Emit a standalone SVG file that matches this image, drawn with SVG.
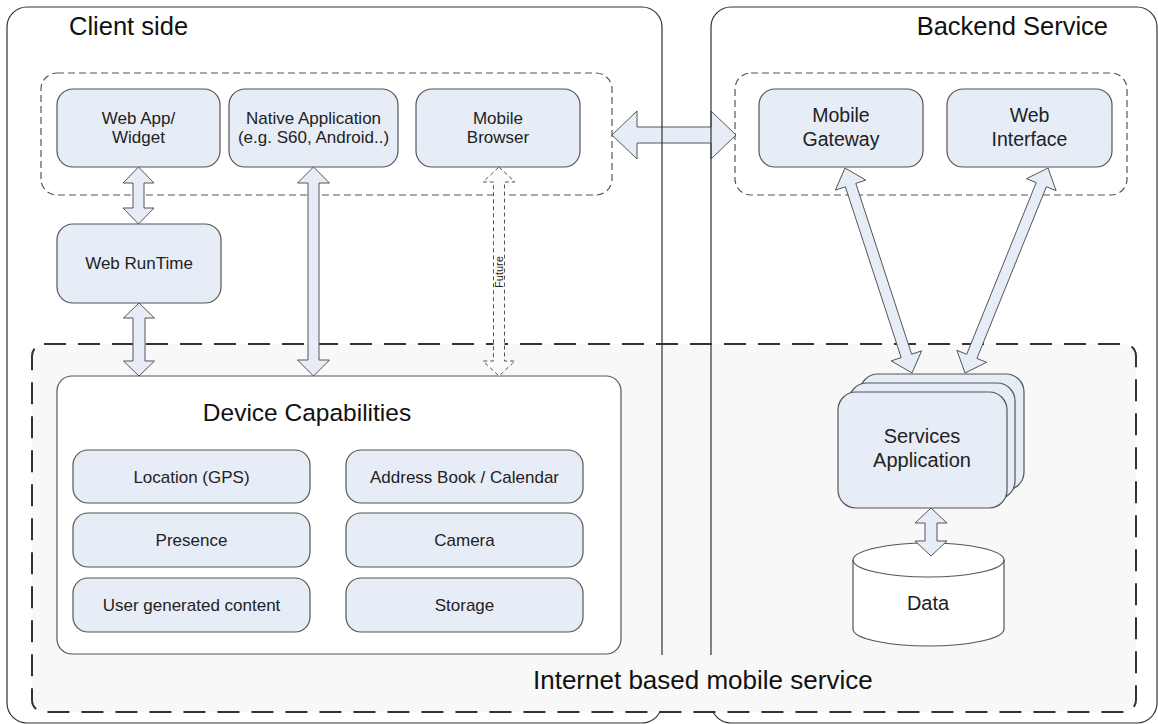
<svg xmlns="http://www.w3.org/2000/svg" width="1158" height="724" viewBox="0 0 1158 724">
<style>
text{font-family:"Liberation Sans",Arial,sans-serif;fill:#222}
.title{font-size:25.5px;fill:#111}
.lbl{font-size:17px;text-anchor:middle}
.lbl2{font-size:19.5px;text-anchor:middle}
.lbl3{font-size:20px;text-anchor:middle}
.box{fill:#e7edf7;stroke:#555;stroke-width:1.2}
.grp{fill:none;stroke:#555;stroke-width:1.2;stroke-dasharray:7 4}
.frame{fill:none;stroke:#333;stroke-width:1.2}
.arr{fill:#e7edf7;stroke:#555;stroke-width:1}
.arrd{fill:#fbfbfb;stroke:#555;stroke-width:1;stroke-dasharray:4 3}
</style>
<rect width="1158" height="724" fill="#fff"/>
<g id="internet-service">
<rect x="32" y="344" width="1104" height="368" rx="12" fill="#f8f8f8" stroke="#333" stroke-width="2" stroke-dasharray="22 12"/>
</g>
<g id="client-apps-group"><rect class="grp" x="41" y="73" width="571" height="122" rx="16"/></g>
<g id="backend-group"><rect class="grp" x="735" y="73" width="392" height="122" rx="16"/></g>
<g id="web-app">
<rect class="box" x="57" y="89" width="163" height="78" rx="16"/>
<text class="lbl" x="138.5" y="124">Web App/</text>
<text class="lbl" x="138.5" y="143">Widget</text>
</g>
<g id="native-app">
<rect class="box" x="229" y="89" width="169" height="78" rx="16"/>
<text class="lbl" x="313.5" y="124">Native Application</text>
<text class="lbl" x="313.5" y="143">(e.g. S60, Android..)</text>
</g>
<g id="mobile-browser">
<rect class="box" x="416" y="89" width="164" height="78" rx="16"/>
<text class="lbl" x="498" y="124">Mobile</text>
<text class="lbl" x="498" y="143">Browser</text>
</g>
<g id="mobile-gateway">
<rect class="box" x="759" y="89" width="164" height="78" rx="16"/>
<text class="lbl2" x="841" y="122">Mobile</text>
<text class="lbl2" x="841" y="146">Gateway</text>
</g>
<g id="web-interface">
<rect class="box" x="947" y="89" width="165" height="78" rx="16"/>
<text class="lbl2" x="1029.5" y="122">Web</text>
<text class="lbl2" x="1029.5" y="146">Interface</text>
</g>
<g id="web-runtime">
<rect class="box" x="57" y="224" width="164" height="79" rx="16"/>
<text class="lbl" x="139" y="269">Web RunTime</text>
</g>
<g id="device-capabilities">
<rect x="57" y="376" width="564" height="278" rx="15" fill="#fff" stroke="#555" stroke-width="1.2"/>
<text class="title" x="307" y="421" text-anchor="middle" style="font-size:24.5px">Device Capabilities</text>
</g>
<g id="location"><rect class="box" x="73" y="450" width="237" height="53" rx="15"/><text class="lbl" x="191.5" y="482.5">Location (GPS)</text></g>
<g id="presence"><rect class="box" x="73" y="513" width="237" height="54" rx="15"/><text class="lbl" x="191.5" y="546">Presence</text></g>
<g id="ugc"><rect class="box" x="73" y="578" width="237" height="54" rx="15"/><text class="lbl" x="191.5" y="611">User generated content</text></g>
<g id="address-book"><rect class="box" x="346" y="450" width="237" height="53" rx="15"/><text class="lbl" x="464.5" y="482.5">Address Book / Calendar</text></g>
<g id="camera"><rect class="box" x="346" y="513" width="237" height="54" rx="15"/><text class="lbl" x="464.5" y="546">Camera</text></g>
<g id="storage"><rect class="box" x="346" y="578" width="237" height="54" rx="15"/><text class="lbl" x="464.5" y="611">Storage</text></g>
<g id="services-application">
<rect class="box" x="860" y="374" width="164" height="116" rx="18"/>
<rect class="box" x="849" y="383" width="166" height="116" rx="18"/>
<rect class="box" x="838" y="392" width="169" height="116" rx="18"/>
<text class="lbl3" x="922" y="443">Services</text>
<text class="lbl3" x="922" y="467">Application</text>
</g>
<g id="data">
<path d="M853,560 L853,629 A75.5,17 0 0 0 1004,629 L1004,560 A75.5,17 0 0 0 853,560 Z" fill="#fff" stroke="#555" stroke-width="1.2"/>
<path d="M853,560 A75.5,17 0 0 0 1004,560" fill="none" stroke="#555" stroke-width="1.2"/>
<text class="lbl3" x="928" y="610">Data</text>
</g>
<g id="connectors">
<polygon class="arr" points="138.5,167 154,183 144,183 144,208 154,208 138.5,224 123,208 133,208 133,183 123,183"/>
<polygon class="arr" points="139,303 154.5,318 145,318 145,361 154.5,361 139,376 123.5,361 133,361 133,318 123.5,318"/>
<polygon class="arr" points="313.5,167 329.5,183 319,183 319,360 329.5,360 313.5,376 297.5,360 308,360 308,183 297.5,183"/>
<polygon class="arrd" points="499,167 515,182 504.5,182 504.5,361 515,361 499,376 483,361 493.5,361 493.5,182 483,182"/>
<text x="0" y="0" transform="translate(503,272) rotate(-90)" text-anchor="middle" style="font-size:11px">Future</text>
<polygon class="arr" points="612,135 637,111 637,127 711,127 711,111 736,135 711,159 711,143 637,143 637,159"/>
<polygon class="arr" points="845,168 865.8,180.1 855.8,183.4 911.6,354.2 921.6,350.9 912,373 891.2,360.9 901.2,357.6 845.4,186.8 835.4,190.1"/>
<polygon class="arr" points="1048,168 1056.1,190.7 1046.4,186.7 976.9,358.4 986.6,362.3 965,373 956.9,350.3 966.7,354.3 1036.2,182.6 1026.4,178.7"/>
<polygon class="arr" points="931,508 947,523 937,523 937,541 947,541 931,556 915,541 925,541 925,523 915,523"/>
</g>
<g id="client-side">
<rect class="frame" x="7" y="7" width="655" height="716" rx="20"/>
<text class="title" x="69" y="35">Client side</text>
</g>
<g id="backend-service">
<rect class="frame" x="711" y="7" width="446" height="716" rx="20"/>
<text class="title" x="1108" y="35" text-anchor="end">Backend Service</text>
</g>
<g id="internet-service-label">
<rect x="515" y="655" width="375" height="56" fill="#f8f8f8"/>
<text class="title" x="533" y="689" style="font-size:26px">Internet based mobile service</text>
</g>
</svg>
